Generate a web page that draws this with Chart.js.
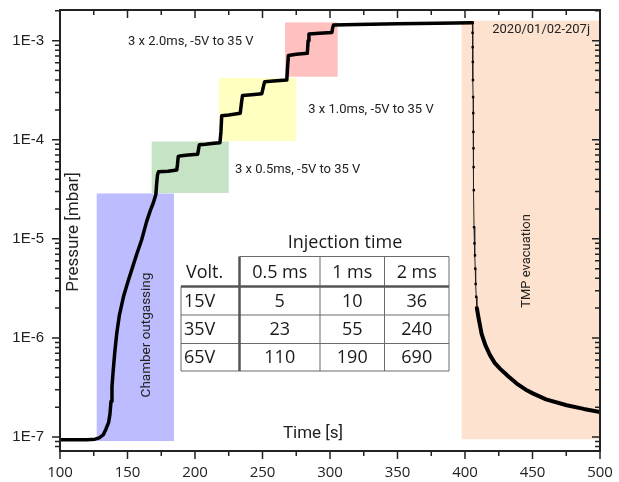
<!DOCTYPE html>
<html>
<head>
<meta charset="utf-8">
<script src="https://cdn.jsdelivr.net/npm/chart.js@4.4.0/dist/chart.umd.min.js"></script>
<style>
	html, body { margin: 0; padding: 0; background: #fff; }
	canvas { display: block; }
</style>
</head>
<body>
<canvas id="chart" width="619" height="482"></canvas>
<script>
	'use strict';

	// --- Data ---

	// pump-down / injection curve
	const riseTime = [100, 110, 120, 126, 129, 132, 134, 136, 137, 137.8, 138.5, 139.3, 140.5, 142, 144, 147, 150.6, 154, 157, 160.5, 164.2, 167, 169.1, 171,
		171.6, 172.2, 173, 180, 186.5, 187, 187.6, 190, 195, 202, 202.6, 203.2, 208, 214, 218.5, 219.2, 219.8, 225, 233.5, 234.5, 235.2, 242, 249.5,
		250.8, 251.6, 258, 268, 268.6, 269.2, 275, 283.2, 283.8, 284.4, 292, 301.4, 302, 302.6, 320, 350, 380, 405.5];
	const risePressure = [9.4e-8, 9.4e-8, 9.4e-8, 9.5e-8, 9.8e-8, 1.05e-7, 1.2e-7, 1.4e-7, 1.7e-7, 2.3e-7, 3.2e-7, 4.5e-7, 7.0e-7, 1.1e-6, 1.7e-6, 2.6e-6,
		3.8e-6, 5.3e-6, 7.1e-6, 9.8e-6, 1.5e-5, 1.95e-5, 2.3e-5, 2.8e-5,
		3.6e-5, 4.4e-5, 4.75e-5, 4.8e-5, 4.95e-5, 5.6e-5, 6.8e-5, 6.9e-5, 7.0e-5, 7.15e-5, 8.0e-5, 8.9e-5, 9.0e-5, 9.2e-5, 9.35e-5, 1.2e-4, 1.75e-4,
		1.78e-4, 1.85e-4, 2.4e-4, 2.8e-4, 2.85e-4, 2.92e-4,
		3.5e-4, 3.85e-4, 3.92e-4, 4.0e-4, 5.5e-4, 7.1e-4, 7.3e-4, 7.45e-4, 1.0e-3, 1.17e-3, 1.19e-3, 1.21e-3, 1.35e-3, 1.44e-3, 1.46e-3, 1.48e-3, 1.5e-3, 1.52e-3];

	const dropTime = [405.5, 405.6, 405.7, 405.8, 405.9, 406.0, 406.1, 406.2, 406.3, 406.4, 406.5, 406.7, 407.0, 407.4, 407.6, 407.9, 408.3, 408.8];
	const dropPressure = [1.52e-3, 1.2e-3, 8.6e-4, 6.1e-4, 4.0e-4, 2.7e-4, 1.86e-4, 1.2e-4, 8.2e-5, 5.3e-5, 3.1e-5, 1.31e-5, 9.0e-6, 6.8e-6, 5.0e-6, 3.5e-6, 2.6e-6, 2.0e-6];

	const decayTime = [408.8, 409.9, 412.3, 415, 418.5, 422, 425.9, 432, 438.3, 445, 450.6, 460, 475.3, 488, 500];
	const decayPressure = [2.0e-6, 1.63e-6, 1.1e-6, 8.5e-7, 6.7e-7, 5.6e-7, 4.9e-7, 4.1e-7, 3.46e-7, 3.0e-7, 2.74e-7, 2.4e-7, 2.09e-7, 1.92e-7, 1.79e-7];

	// shaded phases: time range and pressure range
	const regionT0 = [127.2, 167.9, 217.8, 266.7, 397.5];
	const regionT1 = [184.4, 225, 275, 305.7, 500];
	const regionP0 = [9.1e-8, 2.9e-5, 9.7e-5, 4.33e-4, 9.5e-8];
	const regionP1 = [2.87e-5, 9.6e-5, 4.2e-4, 1.53e-3, 1.59e-3];
	const regionColors = ['#bcbcfe', '#c6e3c6', '#ffffc2', '#ffc0c0', '#fde2d0'];

	// axis ticks
	const xTickValues = [100, 150, 200, 250, 300, 350, 400, 450, 500];
	const yTickValues = [1e-7, 1e-6, 1e-5, 1e-4, 1e-3];
	const yTickLabels = ['1E-7', '1E-6', '1E-5', '1E-4', '1E-3'];

	// inset table
	const tableTitle = 'Injection time';
	const tableHeader = ['Volt.', '0.5 ms', '1 ms', '2 ms'];
	const tableVoltages = ['15V', '35V', '65V'];
	const tableValues = [
		[5, 10, 36],
		[23, 55, 240],
		[110, 190, 690],
	];

	const toPoints = (ts, ps) => ts.map((t, i) => ({ x: t, y: ps[i] }));

	// --- Overlay: shaded regions, frame, ticks, labels, table ---

	function drawTicks(chart) {
		const { ctx, chartArea: a, scales: { x, y } } = chart;
		ctx.save();
		ctx.strokeStyle = '#222';
		ctx.lineWidth = 1.5;
		ctx.beginPath();
		for (let t = 100; t <= 500; t += 25) {
			const px = x.getPixelForValue(t);
			const len = t % 50 === 0 ? 8 : 5;
			ctx.moveTo(px, a.bottom); ctx.lineTo(px, a.bottom + len);
			ctx.moveTo(px, a.top); ctx.lineTo(px, a.top + len);
		}
		for (let e = -8; e <= -3; e++) {
			for (let m = 1; m <= 9; m++) {
				const v = m * Math.pow(10, e);
				if (v < y.min || v > y.max) continue;
				const py = y.getPixelForValue(v);
				const len = m === 1 ? 8 : 5;
				ctx.moveTo(a.left, py); ctx.lineTo(a.left - len, py);
				ctx.moveTo(a.right, py); ctx.lineTo(a.right - len, py);
			}
		}
		ctx.stroke();
		ctx.lineWidth = 2;
		ctx.strokeRect(a.left, a.top, a.right - a.left, a.bottom - a.top);
		ctx.restore();
	}

	function drawLabels(chart) {
		const { ctx, scales: { x, y } } = chart;
		ctx.save();
		ctx.fillStyle = '#222';
		ctx.textBaseline = 'middle';
		ctx.font = '13px Roboto, "Liberation Sans", sans-serif';
		ctx.textAlign = 'left';
		ctx.fillText('3 x 2.0ms, -5V to 35 V', x.getPixelForValue(150.4), y.getPixelForValue(9.8e-4));
		ctx.fillText('3 x 1.0ms, -5V to 35 V', x.getPixelForValue(283.9), y.getPixelForValue(2.0e-4));
		ctx.fillText('3 x 0.5ms, -5V to 35 V', x.getPixelForValue(229.6), y.getPixelForValue(4.94e-5));
		ctx.textAlign = 'right';
		ctx.fillText('2020/01/02-207j', x.getPixelForValue(492.6), y.getPixelForValue(1.3e-3));

		const vertical = (text, px, py, font) => {
			ctx.save();
			ctx.translate(px, py);
			ctx.rotate(-Math.PI / 2);
			ctx.font = font;
			ctx.textAlign = 'center';
			ctx.fillText(text, 0, 0);
			ctx.restore();
		};
		vertical('Chamber outgassing', 147, 335, '13.5px Roboto, "Liberation Sans", sans-serif');
		vertical('TMP evacuation', 527, 261, '13px Roboto, "Liberation Sans", sans-serif');
		vertical('Pressure [mbar]', 74, 232, '17px Roboto, "Liberation Sans", sans-serif');

		ctx.font = '17px Roboto, "Liberation Sans", sans-serif';
		ctx.textAlign = 'center';
		ctx.fillText('Time [s]', 313, 434);
		ctx.restore();
	}

	function drawTable(chart) {
		const { ctx } = chart;
		const cols = [181, 239.5, 320, 384.5, 449];
		const rows = [256.5, 286.5, 315, 343.5, 371];
		ctx.save();
		ctx.strokeStyle = '#6a6a6a';
		ctx.lineWidth = 1;
		ctx.beginPath();
		// header row (no border round "Volt.")
		ctx.moveTo(cols[1], rows[0]); ctx.lineTo(cols[4], rows[0]);
		for (let c = 2; c <= 4; c++) { ctx.moveTo(cols[c], rows[0]); ctx.lineTo(cols[c], rows[4]); }
		ctx.moveTo(cols[0], rows[1]); ctx.lineTo(cols[0], rows[4]);
		for (let r = 2; r <= 4; r++) { ctx.moveTo(cols[0], rows[r]); ctx.lineTo(cols[4], rows[r]); }
		ctx.stroke();
		ctx.lineWidth = 2.5;
		ctx.strokeStyle = '#555';
		ctx.beginPath();
		ctx.moveTo(cols[0], rows[1]); ctx.lineTo(cols[4], rows[1]);
		ctx.moveTo(cols[1], rows[0]); ctx.lineTo(cols[1], rows[4]);
		ctx.stroke();

		ctx.fillStyle = '#1a1a1a';
		ctx.textBaseline = 'middle';
		ctx.font = '18px "Open Sans", sans-serif';
		ctx.textAlign = 'center';
		ctx.fillText(tableTitle, 345, 243);
		const rowMid = (r) => (rows[r] + rows[r + 1]) / 2 + 1;
		const colMid = (c) => (cols[c] + cols[c + 1]) / 2;
		ctx.textAlign = 'left';
		ctx.fillText(tableHeader[0], 186, rowMid(0));
		tableVoltages.forEach((v, i) => ctx.fillText(v, 184, rowMid(i + 1)));
		ctx.textAlign = 'center';
		for (let c = 1; c < tableHeader.length; c++) ctx.fillText(tableHeader[c], colMid(c), rowMid(0));
		tableValues.forEach((row, i) => {
			row.forEach((v, j) => ctx.fillText(String(v), colMid(j + 1), rowMid(i + 1)));
		});
		ctx.restore();
	}

	const overlay = {
		id: 'overlay',
		beforeDatasetsDraw(chart) {
			const { ctx, scales: { x, y } } = chart;
			ctx.save();
			regionT0.forEach((t0, i) => {
				const x0 = x.getPixelForValue(t0);
				const x1 = x.getPixelForValue(regionT1[i]);
				const y0 = y.getPixelForValue(regionP1[i]);
				const y1 = y.getPixelForValue(regionP0[i]);
				ctx.fillStyle = regionColors[i];
				ctx.fillRect(x0, y0, x1 - x0, y1 - y0);
			});
			ctx.restore();
			drawLabels(chart);
		},
		afterDraw(chart) {
			drawTicks(chart);
			drawTable(chart);
		},
	};

	// --- Chart ---

	new Chart(document.getElementById('chart'), {
		type: 'scatter',
		data: {
			datasets: [
				{
					data: toPoints(riseTime, risePressure),
					showLine: true,
					borderColor: '#000',
					borderWidth: 3.5,
					borderJoinStyle: 'round',
					borderCapStyle: 'round',
					pointRadius: 0,
				},
				{
					data: toPoints(dropTime, dropPressure),
					showLine: true,
					borderColor: '#222',
					backgroundColor: '#000',
					borderWidth: 1,
					pointStyle: 'rect',
					pointRadius: 1.7,
					pointBorderWidth: 0,
				},
				{
					data: toPoints(decayTime, decayPressure),
					showLine: true,
					borderColor: '#000',
					borderWidth: 4,
					borderJoinStyle: 'round',
					borderCapStyle: 'round',
					pointRadius: 0,
				},
			],
		},
		options: {
			responsive: false,
			animation: false,
			layout: { padding: { top: 10, right: 19, left: 0, bottom: 0 } },
			plugins: {
				legend: { display: false },
				tooltip: { enabled: false },
			},
			scales: {
				x: {
					type: 'linear',
					min: 100,
					max: 500,
					grid: { display: false, drawTicks: false },
					border: { display: false },
					afterFit: (s) => {
						s.height = 31;
						s.paddingLeft = 0;
						s.paddingRight = 0;
					},
					afterBuildTicks: (s) => { s.ticks = xTickValues.map(v => ({ value: v })); },
					ticks: {
						color: '#222',
						font: { family: "'Open Sans', sans-serif", size: 15 },
						padding: 13,
						maxRotation: 0,
						autoSkip: false,
					},
				},
				y: {
					type: 'logarithmic',
					min: 7.22e-8,
					max: 2.04e-3,
					grid: { display: false, drawTicks: false },
					border: { display: false },
					afterFit: (s) => {
						s.width = 60;
						s.paddingTop = 0;
						s.paddingBottom = 0;
					},
					afterBuildTicks: (s) => { s.ticks = yTickValues.map(v => ({ value: v })); },
					ticks: {
						color: '#222',
						font: { family: "'Liberation Sans', Arial, sans-serif", size: 15 },
						padding: 16,
						autoSkip: false,
						callback: (v) => {
							const i = yTickValues.findIndex(t => Math.abs(t - v) / t < 1e-6);
							return i >= 0 ? yTickLabels[i] : '';
						},
					},
				},
			},
		},
		plugins: [overlay],
	});
</script>
</body>
</html>
